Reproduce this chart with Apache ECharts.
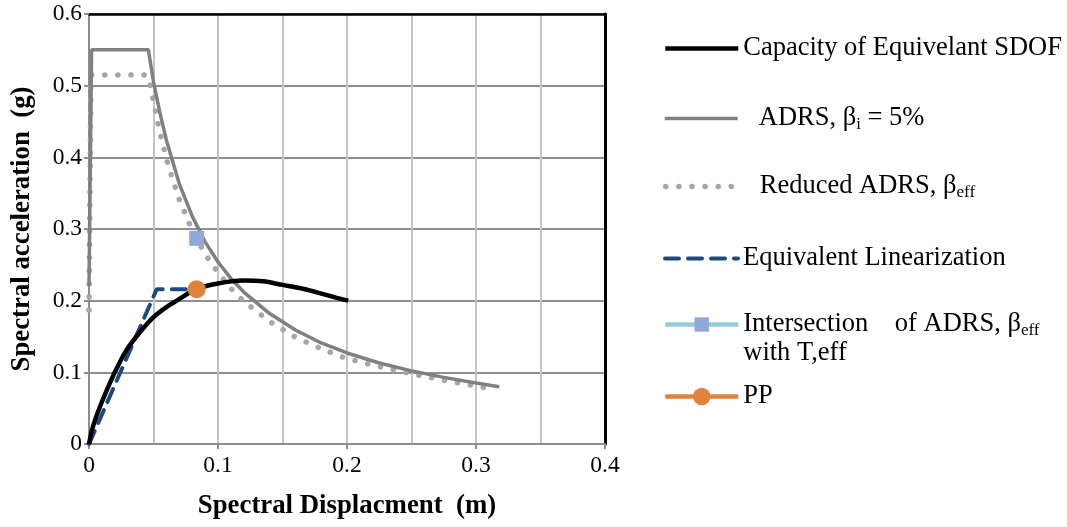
<!DOCTYPE html>
<html>
<head>
<meta charset="utf-8">
<script src="https://cdn.jsdelivr.net/npm/echarts@6/dist/echarts.min.js"></script>
<style>
  html, body { margin: 0; padding: 0; background: #fff; }
  #chart { width: 1067px; height: 527px; }
</style>
</head>
<body>
<div id="chart"></div>
<script>
// Capacity curve of the equivalent SDOF system [Sd (m), Sa (g)]
const capacity = [
  [0, 0], [0.003, 0.024], [0.0085, 0.052], [0.015, 0.08], [0.02, 0.1],
  [0.029, 0.131], [0.04, 0.157], [0.05, 0.177], [0.06, 0.191], [0.068, 0.2],
  [0.083, 0.216], [0.1, 0.224], [0.12, 0.228], [0.135, 0.227], [0.15, 0.222],
  [0.165, 0.217], [0.176, 0.212], [0.19, 0.205], [0.201, 0.2]
];

// Elastic demand spectrum, 5% damping
const adrs = [
  [0, 0.22], [0.002, 0.55], [0.046, 0.55], [0.05, 0.505], [0.055, 0.462],
  [0.06, 0.424], [0.07, 0.363], [0.08, 0.318], [0.09, 0.282], [0.1, 0.254],
  [0.11, 0.231], [0.12, 0.212], [0.14, 0.182], [0.16, 0.159], [0.18, 0.141],
  [0.2, 0.127], [0.225, 0.113], [0.25, 0.102], [0.275, 0.093], [0.3, 0.085],
  [0.318, 0.08]
];

// Reduced demand spectrum, effective damping
const reducedAdrs = [
  [0, 0.187], [0.0015, 0.515], [0.044, 0.515], [0.047, 0.505], [0.05, 0.478],
  [0.055, 0.434], [0.06, 0.398], [0.065, 0.368], [0.07, 0.341], [0.08, 0.298],
  [0.09, 0.265], [0.1, 0.239], [0.11, 0.217], [0.12, 0.199], [0.14, 0.171],
  [0.16, 0.149], [0.18, 0.133], [0.2, 0.119], [0.225, 0.108], [0.25, 0.098],
  [0.275, 0.089], [0.3, 0.081], [0.315, 0.0755]
];

// Bilinear equivalent linearization
const linearization = [[0, 0], [0.0525, 0.216], [0.0835, 0.216]];

// Intersection of reduced ADRS with effective period, and performance point
const intersection = [[0.0835, 0.287]];
const performancePoint = [[0.0835, 0.216]];

// Axis settings
const xTicks = { min: 0, max: 0.4, interval: 0.1 };
const yTicks = { min: 0, max: 0.6, interval: 0.1 };

const serifFont = '"Liberation Serif", "Times New Roman", serif';

const names = {
  cap: 'Capacity of Equivelant SDOF',
  adrs: 'ADRS, βi = 5%',
  red: 'Reduced ADRS, βeff',
  lin: 'Equivalent Linearization',
  inter: 'Intersection of ADRS, βeff with T,eff',
  pp: 'PP'
};

const legendText = {
  [names.cap]: 'Capacity of Equivelant SDOF',
  [names.adrs]: '{sp|}ADRS, β{sub|i}{n| = 5%}',
  [names.red]: '{sp|}Reduced ADRS, β{sub|eff}',
  [names.lin]: 'Equivalent Linearization',
  [names.inter]: '{n|Intersection    of ADRS, β}{sub|eff}\n{n|with T,eff}',
  [names.pp]: 'PP'
};

const FS = 26.5;
const LH = 29;

const richStyles = {
  n: { fontFamily: serifFont, fontSize: FS, color: '#000', lineHeight: LH },
  sp: { width: 16 },
  sub: { fontFamily: serifFont, fontSize: 17, color: '#000', lineHeight: 12, verticalAlign: 'bottom' }
};

// Line styles shared by series and their legend icons
const styles = {
  cap: { color: '#000', width: 4.5, type: 'solid' },
  adrs: { color: '#808080', width: 3.5, type: 'solid' },
  red: { color: '#a6a6a6', width: 5.5, type: [0.1, 13], cap: 'round' },
  lin: { color: '#1f497d', width: 4, type: [14, 9], cap: 'round' },
  inter: { color: '#92cddc', width: 4.5, type: 'solid' },
  pp: { color: '#e0823c', width: 4.5, type: 'solid' }
};

function makeLegend(key, top, opts) {
  opts = opts || {};
  const legend = {
    data: [names[key]],
    left: 663,
    top: top,
    orient: 'vertical',
    padding: 0,
    itemWidth: 73,
    itemHeight: opts.itemHeight || 18,
    selectedMode: false,
    formatter: function (n) { return legendText[n]; },
    lineStyle: Object.assign({}, styles[key]),
    textStyle: {
      fontFamily: serifFont,
      fontSize: FS,
      color: '#000',
      lineHeight: LH,
      rich: richStyles
    }
  };
  if (!opts.marker) {
    legend.itemStyle = { color: 'transparent', borderWidth: 0, borderColor: 'transparent' };
  }
  if (opts.firstLineAligned) {
    legend.textStyle.padding = [LH, 0, 0, 0];
  }
  return legend;
}

const chart = echarts.init(document.getElementById('chart'), null, { renderer: 'canvas' });

const hiddenAxisParts = {
  axisTick: { show: false }, axisLabel: { show: false }, splitLine: { show: false }
};

chart.setOption({
  animation: false,
  backgroundColor: '#fff',
  grid: { left: 89, top: 14, width: 516, height: 430 },
  legend: [
    makeLegend('cap', 34),
    makeLegend('adrs', 104),
    makeLegend('red', 172),
    makeLegend('lin', 244),
    makeLegend('inter', 281, { marker: true, firstLineAligned: true }),
    makeLegend('pp', 382, { marker: true, itemHeight: 22 })
  ],
  xAxis: [
    {
      type: 'value',
      min: xTicks.min, max: xTicks.max, interval: xTicks.interval,
      name: 'Spectral Displacment  (m)',
      nameLocation: 'middle',
      nameGap: 49,
      nameTextStyle: { fontFamily: serifFont, fontSize: 26.8, fontWeight: 'bold', color: '#000' },
      axisLine: { show: true, onZero: false, lineStyle: { color: '#8c8c8c', width: 2 } },
      axisTick: { show: true, length: 5, lineStyle: { color: '#8c8c8c', width: 2 } },
      axisLabel: { fontFamily: serifFont, fontSize: 23.5, color: '#000', margin: 10 },
      splitLine: { show: true, lineStyle: { color: '#c4c4c4', width: 2 } },
      minorTick: { show: false, splitNumber: 2 },
      minorSplitLine: { show: true, lineStyle: { color: '#c4c4c4', width: 2 } }
    },
    Object.assign({
      type: 'value', position: 'top',
      min: xTicks.min, max: xTicks.max, interval: xTicks.interval,
      axisLine: { show: true, onZero: false, lineStyle: { color: '#000', width: 2.5 } }
    }, hiddenAxisParts)
  ],
  yAxis: [
    {
      type: 'value',
      min: yTicks.min, max: yTicks.max, interval: yTicks.interval,
      name: 'Spectral acceleration  (g)',
      nameLocation: 'middle',
      nameGap: 53,
      nameTextStyle: { fontFamily: serifFont, fontSize: 26.8, fontWeight: 'bold', color: '#000' },
      axisLine: { show: true, onZero: false, lineStyle: { color: '#8c8c8c', width: 2 } },
      axisTick: { show: true, length: 5, lineStyle: { color: '#8c8c8c', width: 2 } },
      axisLabel: { fontFamily: serifFont, fontSize: 23.5, color: '#000', margin: 7 },
      splitLine: { show: true, lineStyle: { color: '#8f8f8f', width: 2 } }
    },
    Object.assign({
      type: 'value', position: 'right',
      min: yTicks.min, max: yTicks.max, interval: yTicks.interval,
      axisLine: { show: true, onZero: false, lineStyle: { color: '#000', width: 3 } }
    }, hiddenAxisParts)
  ],
  series: [
    {
      name: names.cap, type: 'line', data: capacity, smooth: 0.3,
      showSymbol: false, symbol: 'none',
      lineStyle: styles.cap, itemStyle: { color: '#000' }, z: 5
    },
    {
      name: names.adrs, type: 'line', data: adrs, smooth: false,
      showSymbol: false, symbol: 'none',
      lineStyle: styles.adrs, itemStyle: { color: '#808080' }, z: 3
    },
    {
      name: names.red, type: 'line', data: reducedAdrs, smooth: false,
      showSymbol: false, symbol: 'none',
      lineStyle: styles.red, itemStyle: { color: '#a6a6a6' }, z: 2
    },
    {
      name: names.lin, type: 'line', data: linearization,
      showSymbol: false, symbol: 'none',
      lineStyle: styles.lin, itemStyle: { color: '#1f497d' }, z: 4
    },
    {
      name: names.inter, type: 'line', data: intersection,
      symbol: 'rect', symbolSize: 15,
      lineStyle: styles.inter,
      itemStyle: { color: '#8fa9d9' }, z: 6
    },
    {
      name: names.pp, type: 'line', data: performancePoint,
      symbol: 'circle', symbolSize: 18,
      lineStyle: styles.pp,
      itemStyle: { color: '#e0823c' }, z: 7
    }
  ]
});
</script>
</body>
</html>
